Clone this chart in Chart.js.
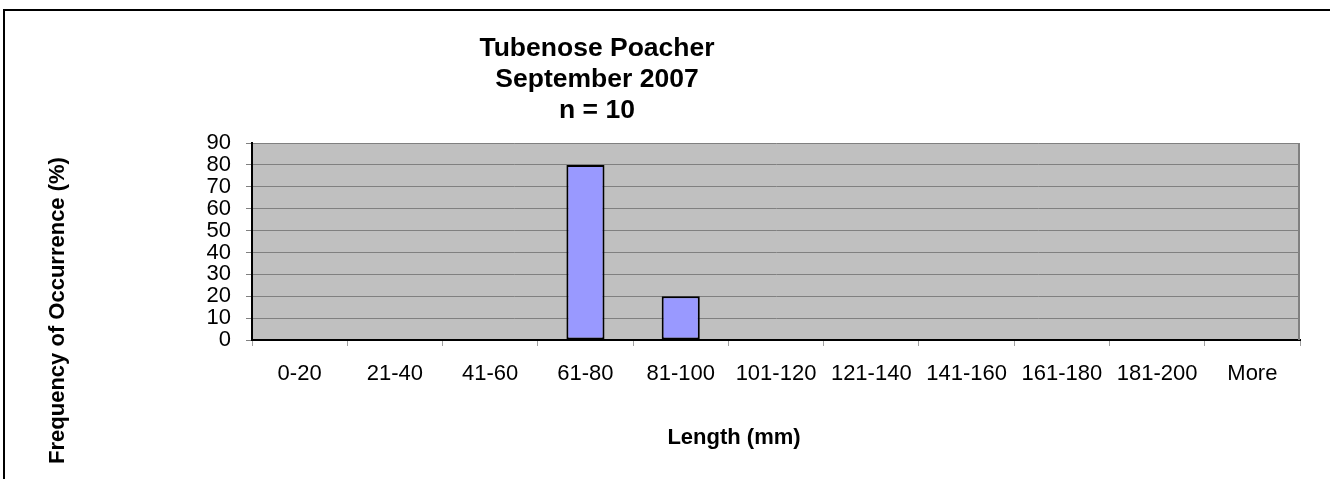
<!DOCTYPE html>
<html>
<head>
<meta charset="utf-8">
<script src="https://cdn.jsdelivr.net/npm/chart.js@4/dist/chart.umd.min.js"></script>
<style>
  html, body { margin: 0; padding: 0; background: #fff; overflow: hidden; }
  #wrap { position: relative; width: 1330px; height: 479px; }
  #frame {
    position: absolute; left: 3px; top: 9px; right: -10px; bottom: -10px;
    border-top: 2px solid #000; border-left: 2px solid #000;
  }
  canvas { position: absolute; left: 0; top: 0; }
</style>
</head>
<body>
<div id="wrap">
  <div id="frame"></div>
  <canvas id="lengthChart" width="1330" height="479"></canvas>
</div>
<script>
// length classes and percent of fish in each
const lengthBins = ['0-20', '21-40', '41-60', '61-80', '81-100', '101-120', '121-140', '141-160', '161-180', '181-200', 'More'];
const frequency = [0, 0, 0, 80, 20, 0, 0, 0, 0, 0, 0];

const yMin = 0;
const yMax = 90;
const yStep = 10;

const titleLines = ['Tubenose Poacher', 'September 2007', 'n = 10'];
const xTitle = 'Length (mm)';
const yTitle = 'Frequency of Occurrence (%)';

const FONT = 'Arial, "Liberation Sans", sans-serif';

// grey plot area, right edge, and the text around the chart
const excelLook = {
  id: 'excelLook',
  beforeDraw(chart) {
    const { ctx, chartArea: a } = chart;
    ctx.save();
    ctx.fillStyle = '#C0C0C0';
    ctx.fillRect(a.left, a.top, a.right - a.left, a.bottom - a.top);
    ctx.restore();
  },
  afterDraw(chart) {
    const { ctx, chartArea: a } = chart;
    ctx.save();
    ctx.strokeStyle = '#808080';
    ctx.lineWidth = 2;
    ctx.beginPath();
    ctx.moveTo(a.right - 1, a.top);
    ctx.lineTo(a.right - 1, a.bottom);
    ctx.stroke();

    ctx.fillStyle = '#000';
    ctx.textAlign = 'center';
    ctx.textBaseline = 'alphabetic';
    ctx.font = 'bold 26.5px ' + FONT;
    titleLines.forEach((line, i) => {
      ctx.fillText(line, 597, 56 + i * 31);
    });

    ctx.font = 'bold 22px ' + FONT;
    ctx.fillText(xTitle, 734, 444);

    ctx.translate(64, 310.5);
    ctx.rotate(-Math.PI / 2);
    ctx.fillText(yTitle, 0, 0);
    ctx.restore();
  }
};

new Chart(document.getElementById('lengthChart'), {
  type: 'bar',
  data: {
    labels: lengthBins,
    datasets: [{
      data: frequency,
      backgroundColor: '#9999FF',
      borderColor: '#000',
      borderWidth: 2,
      borderSkipped: false,
      barPercentage: 0.4,
      categoryPercentage: 1
    }]
  },
  options: {
    responsive: false,
    animation: false,
    devicePixelRatio: 1,
    layout: { padding: { top: 143, right: 30, bottom: 0, left: 0 } },
    plugins: {
      legend: { display: false },
      tooltip: { enabled: false },
      title: { display: false }
    },
    scales: {
      x: {
        afterFit(scale) { scale.height = 139; },
        grid: {
          offset: true,
          drawOnChartArea: false,
          tickLength: 6,
          color: '#A0A0A0'
        },
        border: { color: '#000', width: 2 },
        ticks: {
          autoSkip: false,
          maxRotation: 0,
          padding: 15,
          color: '#000',
          font: { family: FONT, size: 22 }
        }
      },
      y: {
        min: yMin,
        max: yMax,
        afterFit(scale) { scale.width = 252; },
        grid: {
          color: '#808080',
          tickLength: 6
        },
        border: { color: '#000', width: 2 },
        ticks: {
          stepSize: yStep,
          autoSkip: false,
          padding: 15,
          color: '#000',
          font: { family: FONT, size: 22 }
        }
      }
    }
  },
  plugins: [excelLook]
});
</script>
</body>
</html>
